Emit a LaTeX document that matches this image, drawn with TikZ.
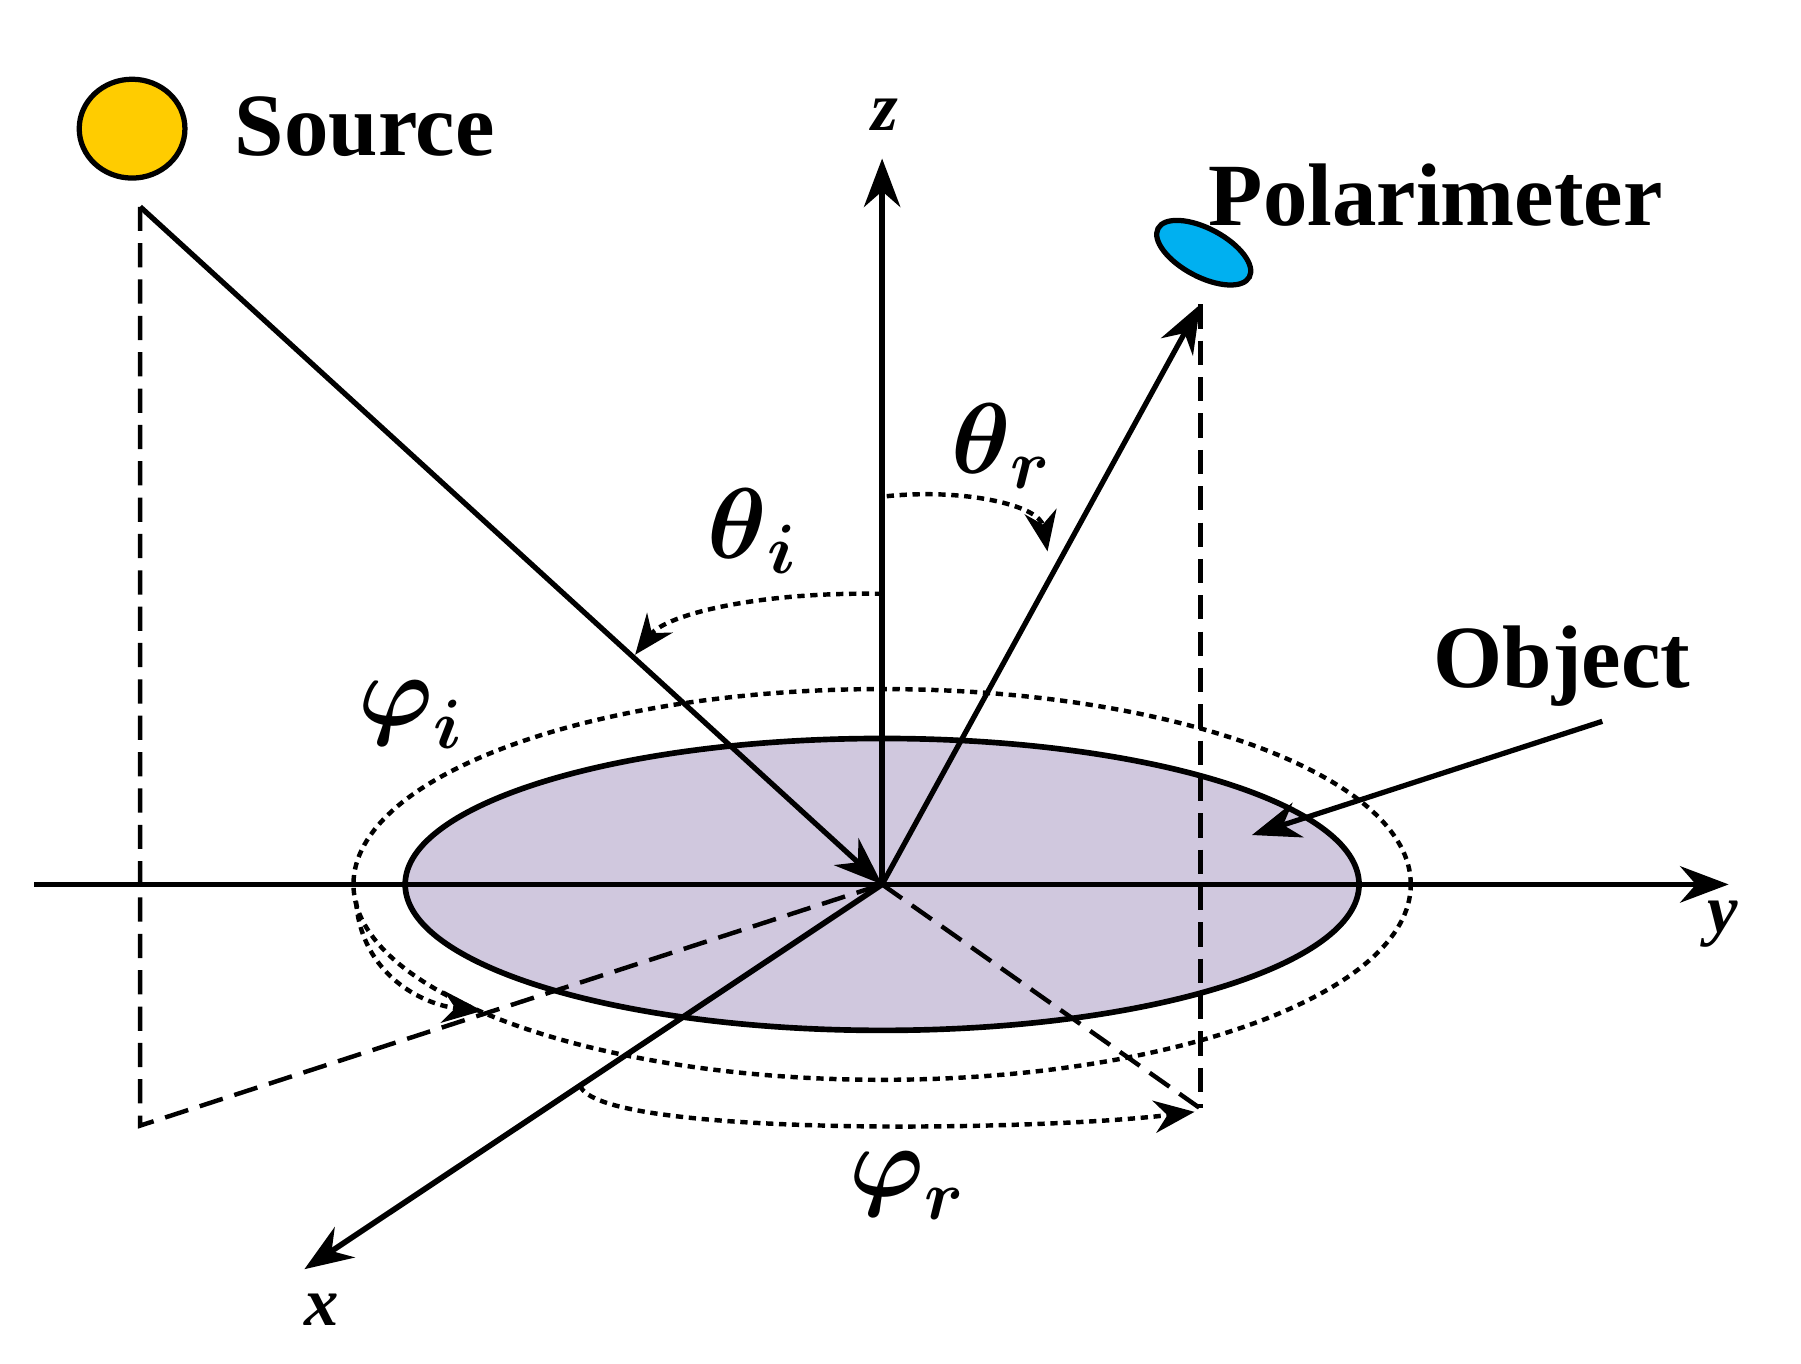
\documentclass[tikz,border=0pt]{standalone}
\usepackage{amssymb, amsmath}
\usepackage{fontspec}
\setmainfont{Liberation Serif}
\usepackage{tikz}
\usetikzlibrary{arrows.meta, shapes.geometric}
\definecolor{sun}{RGB}{255, 204, 0}
\definecolor{lens}{RGB}{0, 176, 240}
\definecolor{disk}{RGB}{208, 200, 222}

\tikzset{
  ax/.style={line width=1.4pt, -{Stealth[length=12pt,width=9pt]}},
  ray/.style={line width=1.3pt, -{Stealth[length=12pt,width=9pt]}},
  guide/.style={line width=1.1pt, dash pattern=on 6pt off 3pt},
  dots/.style={line width=1.1pt, dash pattern=on 1.8pt off 1.4pt},
  turn/.style={dots, -{Stealth[length=10pt,width=8pt]}},
  big/.style={font=\fontsize{22}{24}\selectfont\bfseries},
  ang/.style={font=\fontsize{26}{28}\selectfont},
  axlab/.style={font=\fontsize{17}{18}\selectfont\bfseries\itshape}
}

\begin{document}
\begin{tikzpicture}[x=0.01cm, y=-0.01cm]
  \useasboundingbox (0, 0) rectangle (1568, 1187);

  % object plane
  \node[draw, line width=1.4pt, fill=disk, ellipse, minimum width=8.3cm, minimum height=2.54cm, inner sep=0] (obj) at (768, 770) {};
  \draw[dots] (768, 770) ellipse (4.6cm and 1.7cm);

  \coordinate (o) at (768, 770);
  \coordinate (srcfoot) at (122, 980);
  \coordinate (srctop) at (122, 180);
  \coordinate (poltop) at (1045, 265);
  \coordinate (polfoot) at (1045, 965);

  % axes
  \draw[ax] (30, 770) -- (1505, 770) coordinate (yend);
  \draw[ax] (o) -- (768, 138) coordinate (zend);
  \draw[ax] (o) -- (265, 1105) coordinate (xend);
  \node[axlab] (ylab) at (1500, 805) {y};
  \node[axlab] (zlab) at (770, 100) {z};
  \node[axlab] (xlab) at (280, 1140) {x};

  % source and polarimeter
  \node[draw, line width=1.3pt, fill=sun, ellipse, minimum width=0.92cm, minimum height=0.86cm] (src) at (115, 112) {};
  \node[big, anchor=west] (srclab) at (192, 110) {Source};
  \node[draw, line width=1.3pt, fill=lens, ellipse, minimum width=0.9cm, minimum height=0.42cm, rotate=-28] (pol) at (1048, 220) {};
  \node[big] (pollab) at (1250, 170) {Polarimeter};
  \node[big] (objlab) at (1360, 580) {Object};

  % projections
  \draw[guide] (srctop) -- (srcfoot) -- (o);
  \draw[guide] (poltop) -- (polfoot);
  \draw[guide] (o) -- (polfoot);

  % rays
  \draw[ray] (srctop) -- (o);
  \draw[ray] (o) -- (poltop);
  \draw[ray] (1395, 628) -- (1090, 727);

  % angles
  \draw[turn] (768, 517) .. controls (660, 515) and (580, 535) .. (553, 570);
  \draw[turn] (772, 432) .. controls (840, 425) and (905, 440) .. (912, 480);
  \draw[turn] (310, 785) .. controls (315, 850) and (370, 875) .. (420, 880);
  \draw[turn] (505, 945) .. controls (520, 990) and (900, 985) .. (1040, 968);
  \node[ang] (thi) at (655, 462) {$\boldsymbol{\theta}_{\boldsymbol{i}}$};
  \node[ang] (thr) at (872, 388) {$\boldsymbol{\theta}_{\boldsymbol{r}}$};
  \node[ang] (phi) at (358, 622) {$\boldsymbol{\varphi}_{\boldsymbol{i}}$};
  \node[ang] (phr) at (790, 1032) {$\boldsymbol{\varphi}_{\boldsymbol{r}}$};
\end{tikzpicture}
\end{document}
